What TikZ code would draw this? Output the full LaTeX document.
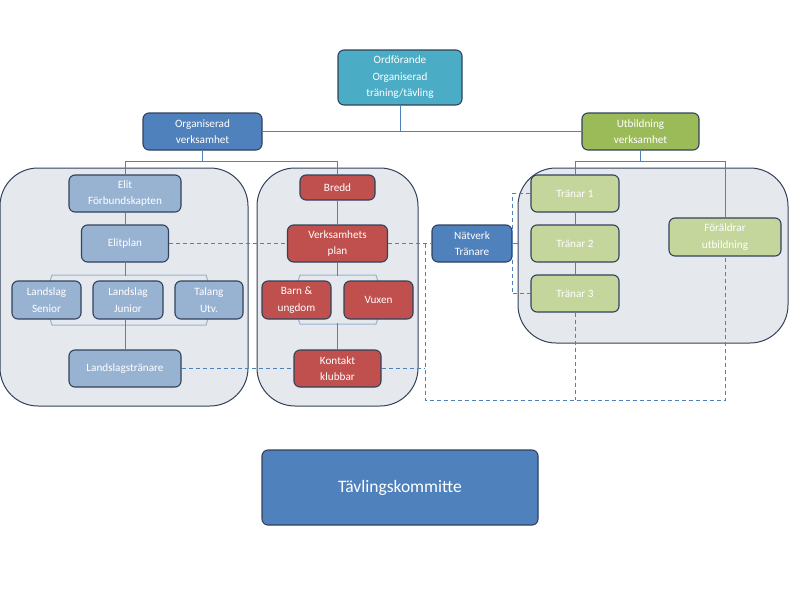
\documentclass[tikz,border=0pt]{standalone}
\usepackage{fontspec}
\setmainfont{Carlito}
\definecolor{edge}{RGB}{50,66,92}
\definecolor{tealbox}{RGB}{75,172,198}
\definecolor{bluebox}{RGB}{79,129,189}
\definecolor{greenbox}{RGB}{155,187,89}
\definecolor{lightblue}{RGB}{152,179,210}
\definecolor{redbox}{RGB}{192,80,77}
\definecolor{lightgreen}{RGB}{196,214,156}
\definecolor{panel}{RGB}{229,232,236}

\begin{document}
\begin{tikzpicture}[x=1pt, y=-1pt,
  box/.style={draw=edge, line width=1.1pt, rounded corners=6pt, text=white, align=center,
    inner sep=1pt, font=\fontsize{11.2}{16.5}\selectfont},
  cont/.style={draw=edge, line width=1pt, fill=panel, rounded corners=38pt},
  link/.style={draw=bluebox, line width=0.8pt},
  dlink/.style={draw=bluebox, line width=0.9pt, dashed, dash pattern=on 4pt off 3pt},
  hex/.style={draw=lightblue, line width=1pt}]
\useasboundingbox (0,0) rectangle (800,600);

\node[cont, minimum width=248, minimum height=238] (gl) at (124,287) {};
\node[cont, minimum width=161, minimum height=238] (gm) at (337.5,287) {};
\node[cont, minimum width=270, minimum height=175] (gr) at (653,255.5) {};

\draw[hex] (44,300) -- (52,275) -- (206,275) -- (214,300) -- (206,325) -- (52,325) -- cycle;
\draw[hex] (292,300) -- (300,275) -- (376,275) -- (384,300) -- (376,324) -- (300,324) -- cycle;

\node[box, fill=tealbox, minimum width=124, minimum height=55] (ord) at (400,77.5) {Ordförande\\Organiserad\\träning/tävling};
\node[box, fill=bluebox, minimum width=119, minimum height=37] (org) at (202.5,131.5) {Organiserad\\verksamhet};
\node[box, fill=greenbox, minimum width=117, minimum height=37] (utb) at (640.5,131.5) {Utbildning\\verksamhet};

\node[box, fill=lightblue, minimum width=112, minimum height=37] (elit) at (125,193.5) {Elit\\Förbundskapten};
\node[box, fill=lightblue, minimum width=87, minimum height=37] (elitplan) at (125,243.5) {Elitplan};
\node[box, fill=lightblue, minimum width=69, minimum height=38] (sen) at (46.5,300) {Landslag\\Senior};
\node[box, fill=lightblue, minimum width=70, minimum height=38] (jun) at (128,300) {Landslag\\Junior};
\node[box, fill=lightblue, minimum width=68, minimum height=38] (tal) at (209,300) {Talang\\Utv.};
\node[box, fill=lightblue, minimum width=112, minimum height=37] (lt) at (125,368.5) {Landslagstränare};

\node[box, fill=redbox, minimum width=75, minimum height=25] (bredd) at (337.5,187.5) {Bredd};
\node[box, fill=redbox, minimum width=100, minimum height=37] (vplan) at (337.5,243.5) {Verksamhets\\plan};
\node[box, fill=redbox, minimum width=69, minimum height=38] (barn) at (296.5,300) {Barn \&\\ungdom};
\node[box, fill=redbox, minimum width=69, minimum height=38] (vux) at (378.5,300) {Vuxen};
\node[box, fill=redbox, minimum width=87, minimum height=37] (kont) at (337.5,368.5) {Kontakt\\klubbar};

\node[box, fill=bluebox, minimum width=80, minimum height=37] (nat) at (472,243.5) {Nätverk\\Tränare};

\node[box, fill=lightgreen, minimum width=88, minimum height=37] (t1) at (575,193.5) {Tränar 1};
\node[box, fill=lightgreen, minimum width=88, minimum height=37] (t2) at (575,243.5) {Tränar 2};
\node[box, fill=lightgreen, minimum width=88, minimum height=37] (t3) at (575,293.5) {Tränar 3};
\node[box, fill=lightgreen, minimum width=112, minimum height=38] (foraldrar) at (725,237) {Föräldrar\\utbildning};

\node[box, fill=bluebox, minimum width=276, minimum height=75, font=\fontsize{17.5}{21}\selectfont] (tav) at (400,487.5) {Tävlingskommitte};

\path (org.south) ++(0,11) coordinate (oj);
\path (utb.south) ++(0,11) coordinate (uj);
\coordinate (loopl) at (425,400);

\draw[link] (ord) -- (ord |- org.east);
\draw[link] (org) -- (utb);
\draw[link] (org) -- (oj);
\draw[link] (elit.north) |- (oj) -| (bredd.north);
\draw[link] (utb) -- (uj);
\draw[link] (t1.north) |- (uj) -| (foraldrar.north);
\draw[link] (elit) -- (elitplan);
\draw[link] (elitplan.south) -- ++(0,13);
\draw[link] (lt.north) -- (lt.north |- jun.south);
\draw[link] (bredd) -- (vplan);
\draw[link] (vplan.south) -- ++(0,13);
\draw[link] (kont.north) -- ++(0,-26);
\draw[link] (t1) -- (t2);
\draw[link] (t2) -- (t3);
\draw[link] (nat.east) -- ++(5,0);

\draw[dlink] (elitplan) -- (vplan);
\draw[dlink] (vplan) -- (nat);
\draw[dlink] (lt) -- (kont);
\draw[dlink] (kont.east) -- (kont.east -| loopl);
\draw[dlink] (loopl |- nat.west) -- (loopl) -- (loopl -| foraldrar.south) -- (foraldrar.south);
\draw[dlink] (t3.south) -- (t3.south |- loopl);
\draw[dlink] (t1.west) -- ++(-18,0) |- (t3.west);
\end{tikzpicture}
\end{document}
